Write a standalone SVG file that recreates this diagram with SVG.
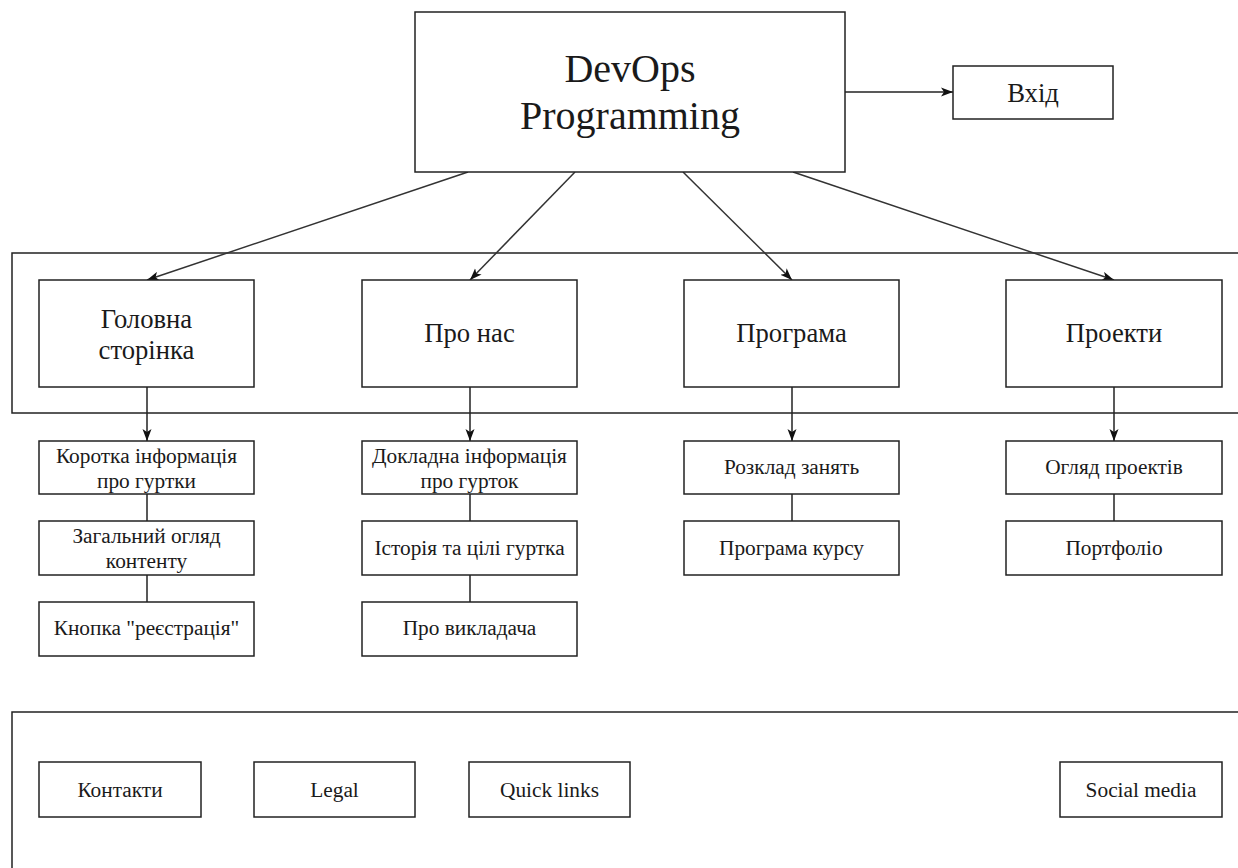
<svg xmlns="http://www.w3.org/2000/svg" width="1238" height="868" viewBox="0 0 1238 868">
<defs>
<style>
.b{fill:#fff;stroke:#222;stroke-width:1.5}
.c{fill:none;stroke:#222;stroke-width:1.5}
.e{fill:none;stroke:#333;stroke-width:1.5}
text{font-family:"Liberation Serif","Times New Roman",serif;fill:#1a1a1a;text-anchor:middle}
.t1{font-size:40px}
.t2{font-size:26.67px}
.t3{font-size:21.33px}
</style>
<marker id="ah" viewBox="0 0 12 10" refX="12" refY="5" markerWidth="12" markerHeight="10" markerUnits="userSpaceOnUse" orient="auto">
<path d="M0,0.5 L12,5 L0,9.5 L3,5 Z" fill="#111"/>
</marker>
</defs>
<rect width="1238" height="868" fill="#fff"/>
<g id="header-container"><rect class="c" x="12" y="253" width="1240" height="160"/></g>
<g id="footer-container"><rect class="c" x="12" y="712" width="1240" height="170"/></g>

<g id="connectors">
<line class="c" x1="845" y1="92" x2="953" y2="92" marker-end="url(#ah)"/>
<line class="e" x1="468" y1="172" x2="147" y2="280" marker-end="url(#ah)"/>
<line class="e" x1="575" y1="172" x2="470" y2="280" marker-end="url(#ah)"/>
<line class="e" x1="683" y1="172" x2="792" y2="280" marker-end="url(#ah)"/>
<line class="e" x1="793" y1="172" x2="1114" y2="280" marker-end="url(#ah)"/>
<line class="c" x1="147" y1="387" x2="147" y2="441" marker-end="url(#ah)"/>
<line class="c" x1="470" y1="387" x2="470" y2="441" marker-end="url(#ah)"/>
<line class="c" x1="792" y1="387" x2="792" y2="441" marker-end="url(#ah)"/>
<line class="c" x1="1114" y1="387" x2="1114" y2="441" marker-end="url(#ah)"/>
<line class="c" x1="147" y1="494" x2="147" y2="521"/>
<line class="c" x1="147" y1="575" x2="147" y2="602"/>
<line class="c" x1="470" y1="494" x2="470" y2="521"/>
<line class="c" x1="470" y1="575" x2="470" y2="602"/>
<line class="c" x1="792" y1="494" x2="792" y2="521"/>
<line class="c" x1="1114" y1="494" x2="1114" y2="521"/>
</g>

<g id="main"><rect class="b" x="415" y="12" width="430" height="160"/>
<text class="t1" x="630" y="82">DevOps</text><text class="t1" x="630" y="129">Programming</text></g>
<g id="login"><rect class="b" x="953" y="66" width="160" height="53"/><text class="t2" x="1033" y="102">Вхід</text></g>

<g id="home"><rect class="b" x="39" y="280" width="215" height="107"/>
<text class="t2" x="146.5" y="328">Головна</text><text class="t2" x="146.5" y="359">сторінка</text></g>
<g id="about"><rect class="b" x="362" y="280" width="215" height="107"/><text class="t2" x="469.5" y="342">Про нас</text></g>
<g id="program"><rect class="b" x="684" y="280" width="215" height="107"/><text class="t2" x="791.5" y="342">Програма</text></g>
<g id="projects"><rect class="b" x="1006" y="280" width="216" height="107"/><text class="t2" x="1114" y="342">Проекти</text></g>

<g id="home-1"><rect class="b" x="39" y="441" width="215" height="53"/>
<text class="t3" x="146.5" y="463">Коротка інформація</text><text class="t3" x="146.5" y="488">про гуртки</text></g>
<g id="home-2"><rect class="b" x="39" y="521" width="215" height="54"/>
<text class="t3" x="146.5" y="543">Загальний огляд</text><text class="t3" x="146.5" y="568">контенту</text></g>
<g id="home-3"><rect class="b" x="39" y="602" width="215" height="54"/><text class="t3" x="146.5" y="635">Кнопка "реєстрація"</text></g>

<g id="about-1"><rect class="b" x="362" y="441" width="215" height="53"/>
<text class="t3" x="469.5" y="463">Докладна інформація</text><text class="t3" x="469.5" y="488">про гурток</text></g>
<g id="about-2"><rect class="b" x="362" y="521" width="215" height="54"/><text class="t3" x="469.5" y="555">Історія та цілі гуртка</text></g>
<g id="about-3"><rect class="b" x="362" y="602" width="215" height="54"/><text class="t3" x="469.5" y="635">Про викладача</text></g>

<g id="program-1"><rect class="b" x="684" y="441" width="215" height="53"/><text class="t3" x="791.5" y="474">Розклад занять</text></g>
<g id="program-2"><rect class="b" x="684" y="521" width="215" height="54"/><text class="t3" x="791.5" y="555">Програма курсу</text></g>

<g id="projects-1"><rect class="b" x="1006" y="441" width="216" height="53"/><text class="t3" x="1114" y="474">Огляд проектів</text></g>
<g id="projects-2"><rect class="b" x="1006" y="521" width="216" height="54"/><text class="t3" x="1114" y="555">Портфоліо</text></g>

<g id="contacts"><rect class="b" x="39" y="762" width="162" height="55"/><text class="t3" x="120" y="797">Контакти</text></g>
<g id="legal"><rect class="b" x="254" y="762" width="161" height="55"/><text class="t3" x="334.5" y="797">Legal</text></g>
<g id="quick-links"><rect class="b" x="469" y="762" width="161" height="55"/><text class="t3" x="549.5" y="797">Quick links</text></g>
<g id="social-media"><rect class="b" x="1060" y="762" width="162" height="55"/><text class="t3" x="1141" y="797">Social media</text></g>
</svg>
